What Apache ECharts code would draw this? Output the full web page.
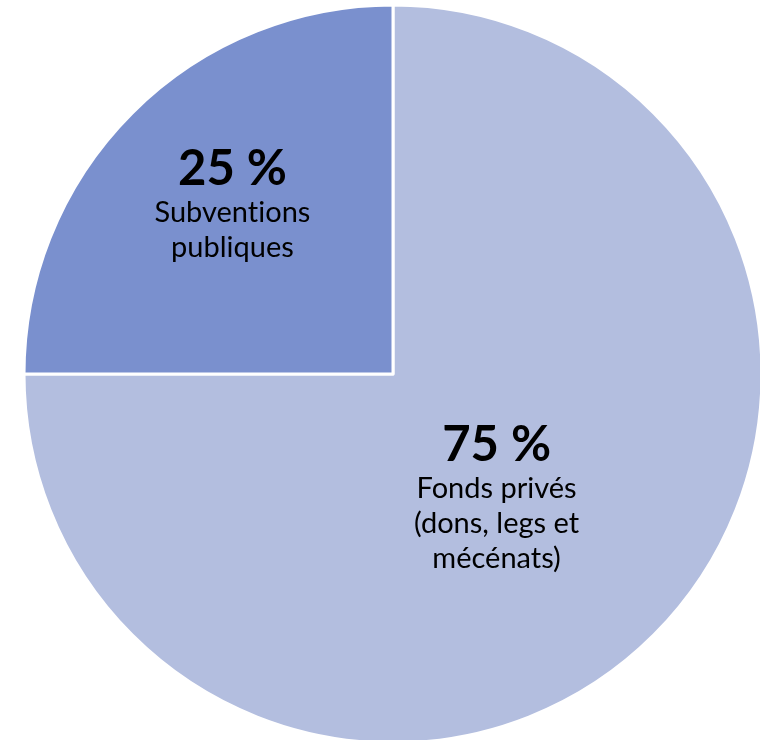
<!DOCTYPE html>
<html>
<head>
<meta charset="utf-8">
<script src="https://cdn.jsdelivr.net/npm/echarts@6/dist/echarts.min.js"></script>
<style>html,body{margin:0;padding:0;background:#fff}#c{width:760px;height:740px}</style>
</head>
<body>
<div id="c"></div>
<script>
const categories = ['Fonds privés\n(dons, legs et\nmécénats)', 'Subvent\u200Cions\npubliques'];
const values = [75, 25];
const percentLabels = ['75 %', '25 %'];
const colors = ['#B3BEDF', '#7A90CE'];
const labelShift = [[-29, -9], [-28, -37]];

const chart = echarts.init(document.getElementById('c'));
chart.setOption({
  animation: false,
  series: [{
    type: 'pie',
    center: [393, 374],
    radius: 369,
    startAngle: 90,
    clockwise: true,
    data: values.map((v, i) => ({ value: v, name: categories[i], itemStyle: { color: colors[i] } })),
    itemStyle: { borderColor: '#fff', borderWidth: 3 },
    label: {
      position: 'inside',
      fontFamily: 'Lato',
      color: '#000',
      formatter: p => '{p|' + percentLabels[p.dataIndex] + '}\n' + p.name.split('\n').map(s => '{t|' + s + '}').join('\n'),
      rich: {
        p: { fontFamily: 'Lato', fontWeight: 'bold', fontSize: 49, lineHeight: 52, color: '#000', align: 'center' },
        t: { fontFamily: 'Lato', fontSize: 29, lineHeight: 35, color: '#000', align: 'center' }
      }
    },
    labelLayout: p => ({ dx: labelShift[p.dataIndex][0], dy: labelShift[p.dataIndex][1] }),
    emphasis: { disabled: true }
  }]
});
</script>
</body>
</html>
